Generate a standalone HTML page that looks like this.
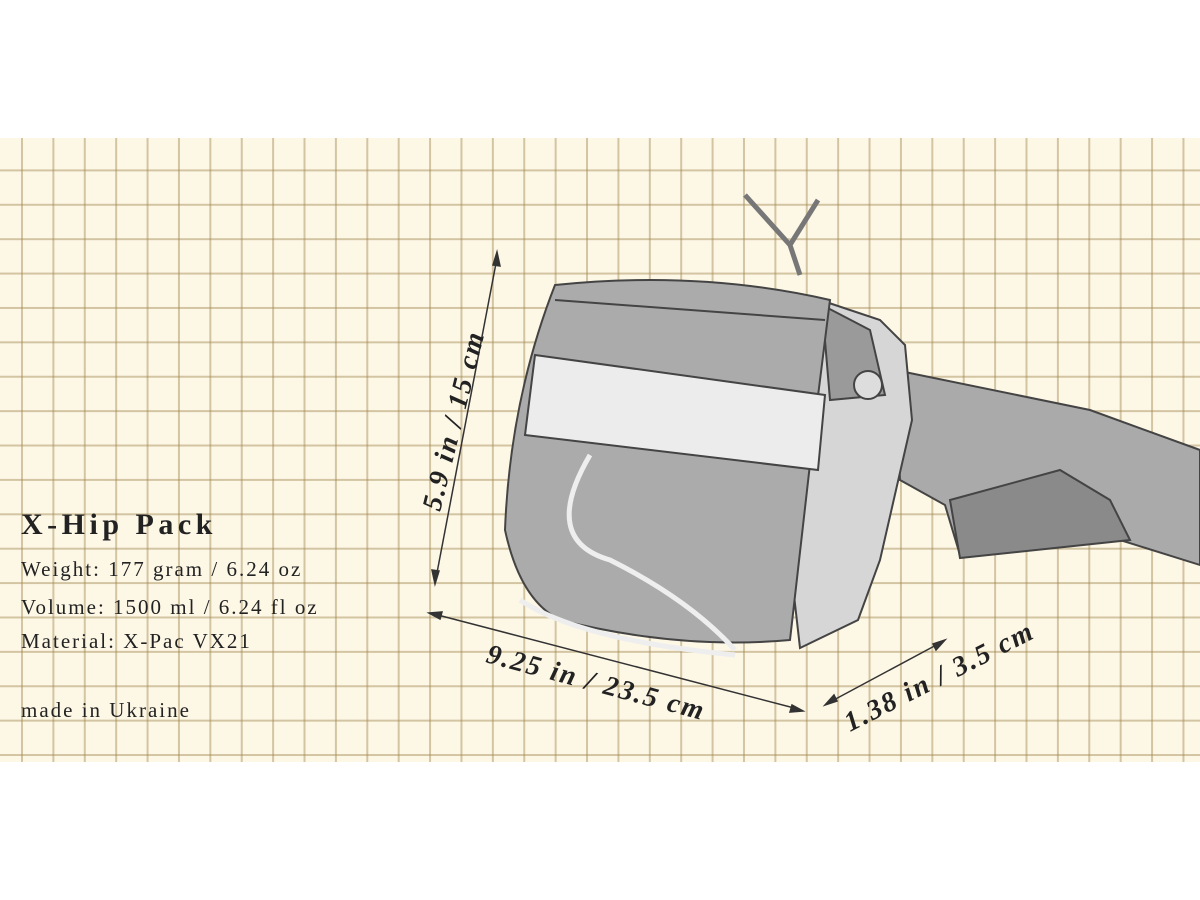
<!DOCTYPE html>
<html><head><meta charset="utf-8"><style>
html,body{margin:0;padding:0;background:#fff}
body{width:1200px;height:900px;position:relative;overflow:hidden;font-family:"Liberation Serif",serif}
#paper{position:absolute;left:0;top:138px;width:1200px;height:624px;
background-color:#fdf7e6;
background-image:linear-gradient(90deg,rgba(160,135,80,.45) 0 2px,transparent 2px),linear-gradient(0deg,rgba(160,135,80,.45) 0 2px,transparent 2px);
background-size:31.4px 34.4px;background-position:21px -1px}
.t{position:absolute;left:21px;color:#222;font-size:21px;letter-spacing:2px;white-space:nowrap}
</style></head><body>
<div id="paper"></div>
<svg width="1200" height="900" style="position:absolute;left:0;top:0">
<g stroke="#444" stroke-width="2" fill="#b5b5b5">
<polygon points="895,370 1090,410 1200,450 1200,565 1120,540 1000,500 960,555 945,505 900,480" fill="#aaa"/>
<polygon points="950,500 1060,470 1110,500 1130,540 960,558" fill="#8a8a8a"/>
<polygon points="820,300 880,320 905,345 912,420 880,560 858,620 800,648 790,560" fill="#d6d6d6"/>
<polygon points="822,305 870,330 885,395 830,400" fill="#9a9a9a"/>
<path d="M555,285 Q700,270 830,300 L815,420 L790,640 Q680,650 560,620 Q520,600 505,530 Q510,400 555,285 Z" fill="#ababab"/>
<polygon points="535,355 825,395 818,470 525,435" fill="#ececec"/>
<path d="M555,300 L825,320" fill="none"/>
<path d="M520,600 Q580,640 735,655" fill="none" stroke="#eee" stroke-width="5"/>
<path d="M590,455 Q540,540 610,560 Q690,600 735,650" fill="none" stroke="#eee" stroke-width="5"/>
<circle cx="868" cy="385" r="14" fill="#ddd"/>
<path d="M745,195 L790,245 L818,200 M790,245 L800,275" fill="none" stroke="#777" stroke-width="5"/>
</g>
<g stroke="#333" stroke-width="1.5" fill="#333">
<line x1="497" y1="258" x2="436" y2="578"/>
<polygon points="497,252 500,266 493,265"/><polygon points="435,584 432,570 439,571"/>
<line x1="434" y1="614" x2="798" y2="709"/>
<polygon points="429,613 442,612 440,619"/><polygon points="803,711 790,712 792,705"/>
<line x1="830" y1="702" x2="940" y2="643"/>
<polygon points="825,705 834,695 837,701"/><polygon points="945,640 936,650 933,644"/>
</g>
<g font-family="Liberation Serif, serif" font-style="italic" font-weight="bold" font-size="28" fill="#222" letter-spacing="2">
<text transform="translate(440,512) rotate(-76)">5.9 in / 15 cm</text>
<text transform="translate(485,662) rotate(15)">9.25 in / 23.5 cm</text>
<text transform="translate(850,732) rotate(-27)">1.38 in / 3.5 cm</text>
</g>
</svg>
<div class="t" style="top:508px;font-size:30px;font-weight:bold;letter-spacing:4.5px">X-Hip Pack</div>
<div class="t" style="top:557px">Weight: 177 gram / 6.24 oz</div>
<div class="t" style="top:595px">Volume: 1500 ml / 6.24 fl oz</div>
<div class="t" style="top:629px">Material: X-Pac VX21</div>
<div class="t" style="top:698px">made in Ukraine</div>
</body></html>
